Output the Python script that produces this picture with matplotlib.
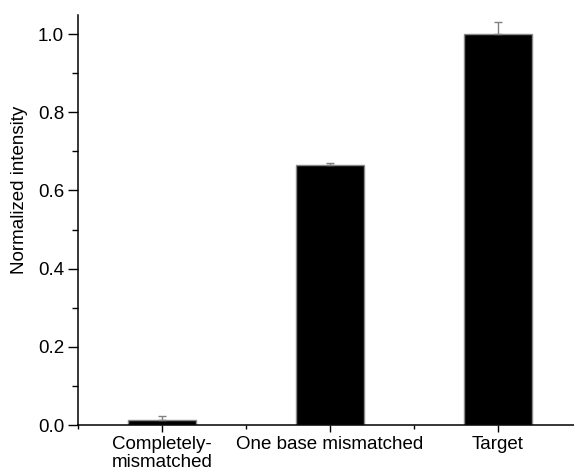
import matplotlib.pyplot as plt
import numpy as np

categories = ['Completely-\nmismatched', 'One base mismatched', 'Target']
intensity = [0.012, 0.664, 1.0]
intensity_err = [0.011, 0.006, 0.03]

plt.rcParams['font.family'] = ['Liberation Sans', 'DejaVu Sans']

fig = plt.figure(figsize=(5.74, 4.75), dpi=100)
ax = fig.add_axes([78 / 574, 50 / 475, 504 / 574, 410 / 475])

x = np.arange(1, len(categories) + 1)
ax.bar(x, intensity, width=0.4, color='black', edgecolor='#888888', linewidth=1.0, zorder=2)
ax.errorbar(x, intensity, yerr=[np.zeros(len(x)), intensity_err], fmt='none',
            ecolor='#808080', elinewidth=1.0, capsize=3, capthick=1.0, zorder=3)

ax.set_xlim(0.5, 3.5)
ax.set_ylim(0, 1.049)
ax.set_xticks(x)
ax.set_xticklabels(categories, fontsize=13.5, linespacing=1.05)
ax.set_xticks([0.5, 1.5, 2.5, 3.5], minor=True)
ax.set_yticks(np.arange(0, 1.01, 0.2))
ax.set_yticklabels([f'{v:.1f}' for v in np.arange(0, 1.01, 0.2)], fontsize=13.5)
ax.set_yticks(np.arange(0.1, 1.0, 0.2), minor=True)

ax.tick_params(axis='y', which='major', direction='out', length=7, width=1.0, pad=3)
ax.tick_params(axis='y', which='minor', direction='out', length=4, width=1.0)
ax.tick_params(axis='x', which='major', direction='out', length=5, width=1.0, pad=3)
ax.tick_params(axis='x', which='minor', direction='out', length=3, width=1.0)

for side in ['top', 'right']:
    ax.spines[side].set_visible(False)
for side in ['left', 'bottom']:
    ax.spines[side].set_linewidth(1.1)

ax.set_ylabel('Normalized intensity', fontsize=13.5)
ax.yaxis.set_label_coords(-0.10, 0.573)

fig.savefig('out.png', dpi=100)
